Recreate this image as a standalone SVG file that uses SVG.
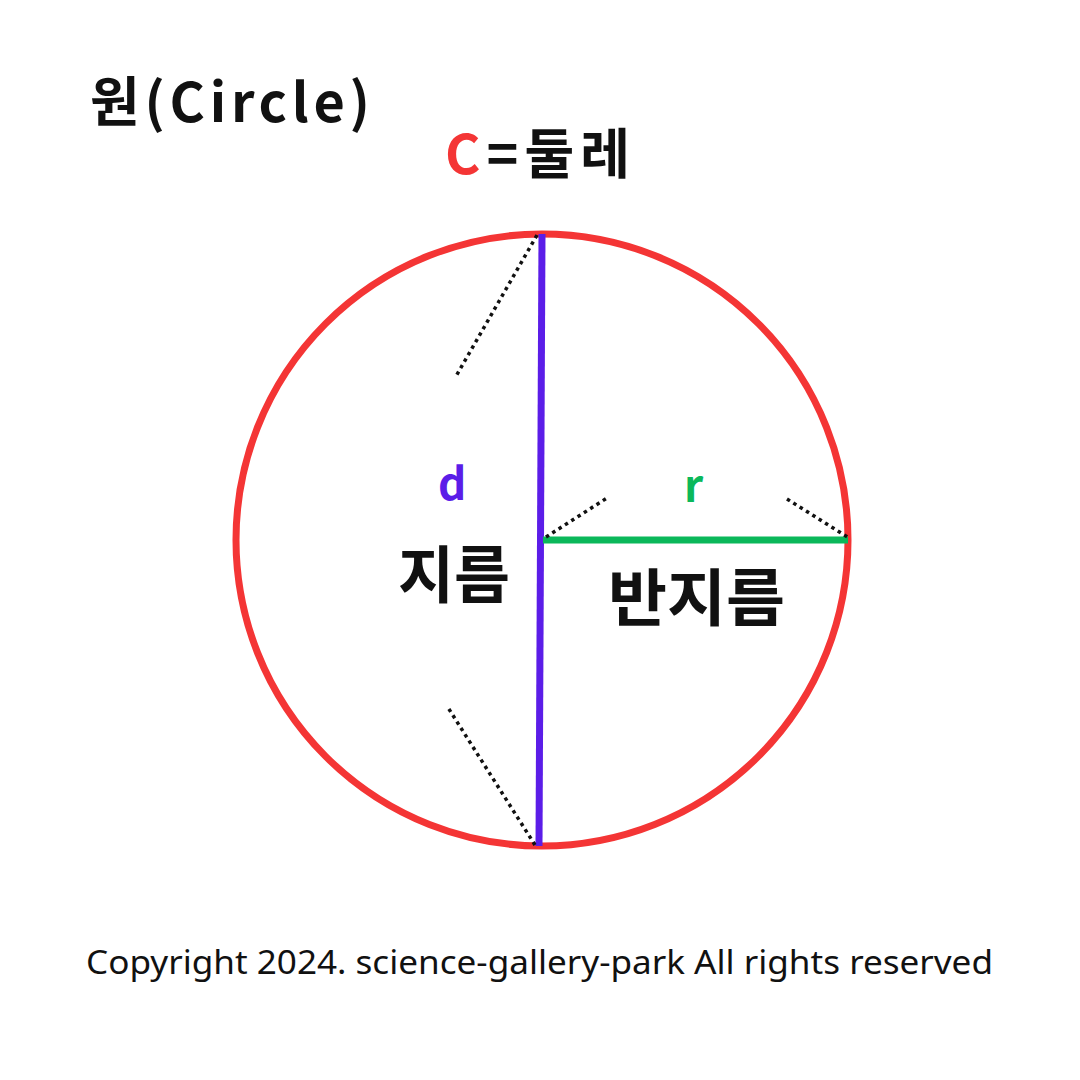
<svg xmlns="http://www.w3.org/2000/svg" width="1080" height="1080" viewBox="0 0 1080 1080">
<style>
.k{font-family:"Noto Sans CJK KR","Noto Sans",sans-serif;font-weight:bold;fill:#111}
.dot{stroke:#111;stroke-width:3.5;stroke-dasharray:3.5 4;fill:none}
</style>
<rect width="1080" height="1080" fill="#fff"/>
<g id="circle"><circle cx="542" cy="540" r="306" fill="none" stroke="#f43535" stroke-width="7"/></g>
<g id="connectors">
<line x1="542" y1="234" x2="539" y2="846" stroke="#5b1de8" stroke-width="7"/>
<line x1="543" y1="540" x2="848" y2="540" stroke="#0bb85a" stroke-width="7"/>
<line class="dot" x1="537" y1="235" x2="455" y2="378"/>
<line class="dot" x1="535" y1="845" x2="447" y2="706"/>
<line class="dot" x1="546" y1="537" x2="607" y2="498"/>
<line class="dot" x1="787" y1="499" x2="849" y2="538"/>
</g>
<g id="title"><text class="k" x="90" y="122" font-size="54" textLength="280" lengthAdjust="spacing">원(Circle)</text></g>
<g id="circumference"><text class="k" x="445" y="174" font-size="54" textLength="185" lengthAdjust="spacing"><tspan fill="#f43535">C</tspan>=둘레</text></g>
<g id="d-label"><text class="k" x="438" y="500" font-size="44" style="fill:#5b1de8">d</text></g>
<g id="r-label"><text class="k" x="684" y="502" font-size="44" style="fill:#0bb85a">r</text></g>
<g id="diameter"><text class="k" x="398" y="598" font-size="62" textLength="112" lengthAdjust="spacingAndGlyphs">지름</text></g>
<g id="radius"><text class="k" x="608" y="621" font-size="62" textLength="177" lengthAdjust="spacingAndGlyphs">반지름</text></g>
<g id="copyright"><text x="86" y="974" font-family="Noto Sans, sans-serif" font-size="33" fill="#111" textLength="907" lengthAdjust="spacingAndGlyphs">Copyright 2024. science-gallery-park All rights reserved</text></g>
</svg>
